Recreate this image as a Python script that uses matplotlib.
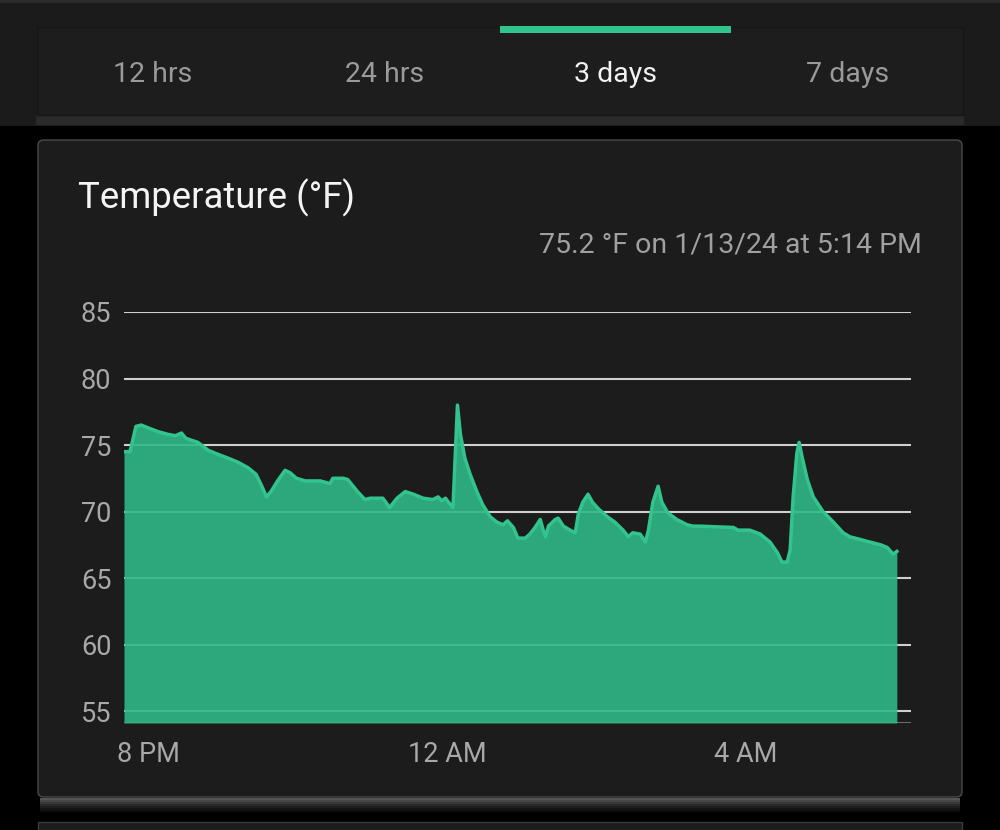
import matplotlib
matplotlib.use("Agg")
import matplotlib.pyplot as plt
from matplotlib.patches import Rectangle, FancyBboxPatch

plt.rcParams["font.family"] = ["Roboto", "DejaVu Sans"]

# hours after 8 PM
hours = [-0.33, -0.25, -0.22, -0.17, -0.10, -0.01, 0.13, 0.26, 0.36, 0.44,
         0.50, 0.66, 0.80, 0.93, 1.07, 1.20, 1.33, 1.44, 1.51, 1.58,
         1.64, 1.74, 1.83, 1.90, 1.98, 2.10, 2.23, 2.30, 2.43, 2.47,
         2.61, 2.67, 2.80, 2.90, 2.97, 3.14, 3.23, 3.33, 3.44, 3.55,
         3.68, 3.81, 3.88, 3.93, 3.98, 4.02, 4.08, 4.14, 4.18, 4.24,
         4.31, 4.40, 4.48, 4.58, 4.67, 4.75, 4.81, 4.89, 4.95, 5.05,
         5.11, 5.18, 5.25, 5.29, 5.32, 5.36, 5.45, 5.49, 5.56, 5.65,
         5.72, 5.76, 5.82, 5.89, 5.95, 6.03, 6.15, 6.25, 6.36, 6.43,
         6.49, 6.59, 6.66, 6.70, 6.76, 6.83, 6.88, 6.96, 7.08, 7.22,
         7.30, 7.39, 7.84, 7.90, 8.06, 8.20, 8.33, 8.43, 8.49, 8.56,
         8.60, 8.64, 8.69, 8.72, 8.76, 8.83, 8.91, 9.04, 9.18, 9.31,
         9.40, 9.54, 9.67, 9.81, 9.90, 9.98, 10.03]
temps_f = [74.5, 74.5, 75.2, 76.4, 76.5, 76.3, 76.0, 75.8, 75.7, 75.9,
           75.5, 75.2, 74.6, 74.3, 74.0, 73.7, 73.3, 72.8, 72.0, 71.1,
           71.5, 72.4, 73.1, 72.9, 72.5, 72.3, 72.3, 72.3, 72.1, 72.5,
           72.5, 72.4, 71.5, 70.9, 71.0, 71.0, 70.3, 71.0, 71.5, 71.3,
           71.0, 70.9, 71.1, 70.8, 71.0, 70.7, 70.3, 78.0, 75.8, 74.0,
           72.8, 71.5, 70.5, 69.6, 69.2, 69.0, 69.3, 68.8, 68.0, 68.0,
           68.3, 68.8, 69.4, 68.6, 68.1, 68.9, 69.4, 69.5, 68.9, 68.6,
           68.4, 69.8, 70.7, 71.3, 70.7, 70.2, 69.6, 69.2, 68.6, 68.1,
           68.4, 68.3, 67.7, 68.6, 70.7, 71.9, 70.7, 69.9, 69.4, 69.0,
           68.9, 68.9, 68.8, 68.6, 68.6, 68.3, 67.7, 66.9, 66.2, 66.2,
           67.1, 71.1, 74.4, 75.2, 74.1, 72.4, 71.1, 70.0, 69.2, 68.4,
           68.1, 67.9, 67.7, 67.5, 67.3, 66.8, 67.0]

y_ticks = [55, 60, 65, 70, 75, 80, 85]
x_ticks = [0, 4, 8]
x_labels = ["8 PM", "12 AM", "4 AM"]
tabs = ["12 hrs", "24 hrs", "3 days", "7 days"]
selected_tab = "3 days"
title = "Temperature (°F)"
latest = "75.2 °F on 1/13/24 at 5:14 PM"

W, H = 1000, 830
GREEN = "#31c48f"


def fx(px):
    return px / W


def fy(py):
    return 1 - py / H


fig = plt.figure(figsize=(W / 100, H / 100), dpi=100)
fig.patch.set_facecolor("black")

# top tab bar
fig.patches.append(Rectangle((0, fy(126)), 1, 126 / H, transform=fig.transFigure,
                             facecolor="#1b1b1b", edgecolor="none", zorder=0))
fig.patches.append(Rectangle((0, fy(3)), 1, 3 / H, transform=fig.transFigure,
                             facecolor="#2c2c2c", edgecolor="none", zorder=1))
fig.patches.append(Rectangle((fx(36), fy(125)), fx(928), 10 / H, transform=fig.transFigure,
                             facecolor="#2a2a2a", edgecolor="none", zorder=1))
fig.patches.append(Rectangle((fx(37), fy(115)), fx(926), 88 / H, transform=fig.transFigure,
                             facecolor="#1d1d1d", edgecolor="#161616", lw=1, zorder=2))
tab_w = 926 / len(tabs)
for i, name in enumerate(tabs):
    cx = 37 + tab_w * (i + 0.5)
    sel = name == selected_tab
    if sel:
        fig.patches.append(Rectangle((fx(500), fy(33)), fx(231), 7 / H,
                                     transform=fig.transFigure, facecolor=GREEN,
                                     edgecolor="none", zorder=3))
    if i > 0:
        fig.add_artist(plt.Line2D([fx(37 + tab_w * i)] * 2, [fy(33), fy(113)],
                                  transform=fig.transFigure, color="#181818", lw=1.5))
    fig.text(fx(cx), fy(74), name, ha="center", va="center", fontsize=20.5,
             color="#f2f2f2" if sel else "#9a9a9a")

# soft shadow under the card
shades = ["#555555", "#464646", "#383838", "#2a2a2a", "#1e1e1e", "#141414", "#0b0b0b"]
for k, c in enumerate(shades):
    fig.patches.append(Rectangle((fx(40), fy(798 + 2 * (k + 1))), fx(920), 2 / H,
                                 transform=fig.transFigure, facecolor=c,
                                 edgecolor="none", zorder=1))
fig.patches.append(FancyBboxPatch((fx(38), fy(797)), fx(924), 657 / H,
                                  boxstyle="round,pad=0,rounding_size=0.006",
                                  transform=fig.transFigure, facecolor="#1c1c1c",
                                  edgecolor="#4a4a4a", lw=1, zorder=2))
# next card peeking at the bottom
fig.patches.append(Rectangle((fx(38), 0), fx(924), 8 / H, transform=fig.transFigure,
                             facecolor="#1c1c1c", edgecolor="#3a3a3a", lw=1, zorder=2))

fig.text(fx(78), fy(198), title, ha="left", va="center", fontsize=26.3, color="#f4f4f4")
fig.text(fx(922), fy(245), latest, ha="right", va="center", fontsize=20.5, color="#a0a0a0")

ax = fig.add_axes([fx(124), fy(723), fx(787), (723 - 312) / H])
ax.set_facecolor("none")
ax.set_zorder(5)
ax.set_xlim(-0.33, 10.22)
ax.set_ylim(54.1, 85)

for v in y_ticks:
    ax.axhline(v, color="#cfcfcf", lw=1.5, zorder=1)
ax.axhline(54.1, color="#777777", lw=2, zorder=1)

ax.fill_between(hours, temps_f, 54.1, color="#2fb887", alpha=0.9, lw=0, zorder=2)
ax.plot(hours, temps_f, color=GREEN, lw=2.5, zorder=3, solid_joinstyle="round")

ax.set_yticks(y_ticks)
ax.set_xticks(x_ticks)
ax.set_xticklabels(x_labels)
ax.tick_params(axis="both", length=0, labelsize=19.5, labelcolor="#a8a8a8")
ax.tick_params(axis="y", pad=9)
ax.tick_params(axis="x", pad=13)
for s in ax.spines.values():
    s.set_visible(False)

fig.savefig("out.png", dpi=100, facecolor=fig.get_facecolor())
